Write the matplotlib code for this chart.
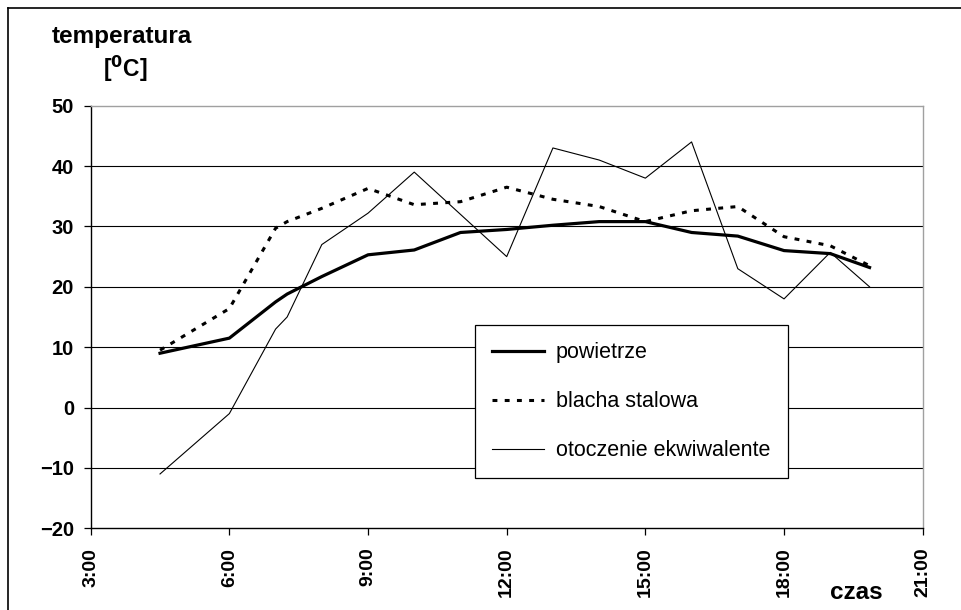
import matplotlib
matplotlib.use('Agg')
import matplotlib.pyplot as plt
from matplotlib.lines import Line2D
from matplotlib.ticker import FixedLocator, FuncFormatter

plt.rcParams['font.family'] = ['Liberation Sans', 'DejaVu Sans']

# measurement times (hours)
czas = [4.5, 6, 7, 7.25, 8, 9, 10, 11, 12, 13, 14, 15, 16, 17, 18, 19, 19.85]

powietrze = [9.0, 11.5, 17.5, 18.8, 21.7, 25.3, 26.1, 29.0, 29.5, 30.2, 30.8, 30.8,
             29.0, 28.4, 26.0, 25.5, 23.2]
blacha = [9.5, 16.4, 29.7, 30.8, 33.0, 36.3, 33.6, 34.1, 36.5, 34.5, 33.3, 30.8,
          32.6, 33.3, 28.3, 26.8, 23.5]
otoczenie = [-11.0, -1.0, 13.0, 15.0, 27.0, 32.2, 39.0, 32.0, 25.0, 43.0, 41.0, 38.0,
             44.0, 23.0, 18.0, 25.7, 20.0]

x_ticks = [3, 6, 9, 12, 15, 18, 21]
y_ticks = [-20, -10, 0, 10, 20, 30, 40, 50]

W, H = 961, 610
fig = plt.figure(figsize=(W / 100, H / 100), dpi=100)
ax = fig.add_axes([90.7 / W, 1 - 528.3 / H, 832 / W, 422.6 / H])

for y in [-10, 0, 10, 20, 30, 40]:
    ax.axhline(y, color='#000000', linewidth=0.8, zorder=1)

ax.plot(czas, powietrze, color='black', linewidth=2.3, label='powietrze', zorder=4,
        solid_joinstyle='round')
ax.plot(czas, blacha, color='black', linewidth=2.2, linestyle=(0, (1.6, 2.4)),
        label='blacha stalowa', zorder=3)
ax.plot(czas, otoczenie, color='black', linewidth=0.8, label='otoczenie ekwiwalente',
        zorder=2)

ax.set_xlim(3, 21)
ax.set_ylim(-20, 50)
ax.xaxis.set_major_locator(FixedLocator(x_ticks))
ax.yaxis.set_major_locator(FixedLocator(y_ticks))
ax.xaxis.set_major_formatter(FuncFormatter(lambda v, p: f"{int(v)}:00"))

for lab in ax.get_xticklabels():
    lab.set_rotation(90)
ax.tick_params(axis='x', direction='out', length=5, width=0.9, pad=9,
               labelsize=14)
ax.tick_params(axis='y', direction='out', length=5, width=0.9, pad=7,
               labelsize=14.5)
for lab in ax.get_xticklabels() + ax.get_yticklabels():
    lab.set_fontweight('bold')

ax.spines['left'].set_color('black')
ax.spines['bottom'].set_color('black')
ax.spines['top'].set_color('#a0a0a0')
ax.spines['right'].set_color('#a0a0a0')
for s in ax.spines.values():
    s.set_linewidth(1.0)

leg = ax.legend(loc='upper left', bbox_to_anchor=(0.462, 0.481, 0.376, 0.0),
                mode='expand', borderaxespad=0, fontsize=15.5, frameon=True,
                fancybox=False, edgecolor='black', framealpha=1,
                handlelength=2.4, handletextpad=0.55, labelspacing=1.3,
                borderpad=0.8)
leg.get_frame().set_linewidth(0.9)
leg.set_zorder(5)

fig.text(52 / W, 1 - 43 / H, 'temperatura', fontsize=17.5, fontweight='bold',
         ha='left', va='baseline')
fig.text(103 / W, 1 - 77 / H, r'[$^{\mathbf{0}}$C]', fontsize=16.5, fontweight='bold',
         ha='left', va='baseline')
fig.text(830 / W, 1 - 599 / H, 'czas', fontsize=17.5, fontweight='bold',
         ha='left', va='baseline')

# outer chart frame (left and top edges visible)
fig.add_artist(Line2D([8 / W, 8 / W], [0, 1 - 7.5 / H], transform=fig.transFigure,
                      color='black', linewidth=1.2))
fig.add_artist(Line2D([8 / W, 1], [1 - 7.5 / H, 1 - 7.5 / H], transform=fig.transFigure,
                      color='black', linewidth=1.2))

fig.savefig('out.png', dpi=100)
